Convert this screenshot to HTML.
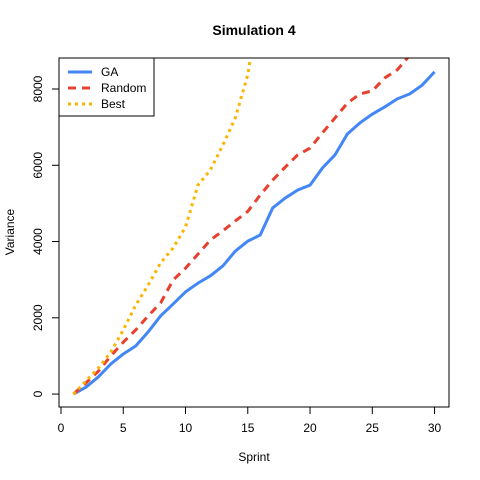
<!DOCTYPE html>
<html><head><meta charset="utf-8"><style>body{margin:0;background:#fff}svg{display:block;font-family:"Liberation Sans",Arial,sans-serif}</style></head>
<body>
<svg id="c" width="480" height="480"></svg>
<script>
const sprints=[1,2,3,4,5,6,7,8,9,10,11,12,13,14,15,16,17,18,19,20,21,22,23,24,25,26,27,28,29,30];
const gaValues=[0,180,450,790,1050,1260,1630,2050,2360,2680,2910,3100,3360,3750,4010,4170,4880,5140,5350,5480,5930,6270,6820,7110,7340,7530,7740,7870,8100,8450];
const randomValues=[0,290,600,1000,1360,1680,2050,2390,2990,3300,3670,4040,4280,4540,4790,5220,5610,5950,6270,6450,6850,7240,7630,7870,7950,8290,8500,8880,9200,9500];
const bestValues=[0,340,680,1100,1680,2330,2860,3440,3830,4380,5480,5880,6530,7240,8370,10500,11200,11900,12600,13300,14000,14700,15400,16100,16800,17500,18200,18900,19600,20300];
const xTicks=[0,5,10,15,20,25,30];
const yTicks=[0,2000,4000,6000,8000];
const L=59,R=449,T=58,B=407;
const xmin=-0.16,xmax=31.16,ymin=-339,ymax=8813;
const sx=v=>L+(v-xmin)/(xmax-xmin)*(R-L);
const sy=v=>B-(v-ymin)/(ymax-ymin)*(B-T);
const svg=document.getElementById('c');const NS='http://www.w3.org/2000/svg';
function mk(t,a,p){const e=document.createElementNS(NS,t);for(const k in a)e.setAttribute(k,a[k]);(p||svg).appendChild(e);return e;}
const defs=mk('defs',{});const cp=mk('clipPath',{id:'pc'},defs);mk('rect',{x:L,y:T,width:R-L,height:B-T},cp);
const series=[[gaValues,'#4287f5','',3,'ga-line'],[randomValues,'#e8402f','8,6',3,'random-line'],[bestValues,'#fbb400','3,4',3,'best-line']];
series.forEach(s=>{const p=mk('polyline',{points:sprints.map((x,i)=>sx(x)+','+sy(s[0][i])).join(' '),fill:'none',stroke:s[1],'stroke-width':s[3],'stroke-dasharray':s[2],'clip-path':'url(#pc)'});

});
const box=mk('rect',{x:L,y:T,width:R-L,height:B-T,fill:'none',stroke:'#000'});


xTicks.forEach(v=>{const x=sx(v);mk('line',{x1:x,x2:x,y1:B,y2:B+7,stroke:'#000'});const t=mk('text',{x:x,y:432,'text-anchor':'middle','font-size':12});t.textContent=v;

});
mk('line',{x1:sx(0),x2:sx(30),y1:B,y2:B,stroke:'#000'});
yTicks.forEach(v=>{const y=sy(v);mk('line',{x1:L,x2:L-7,y1:y,y2:y,stroke:'#000'});const t=mk('text',{x:0,y:0,'text-anchor':'middle','font-size':12,transform:`translate(42,${y}) rotate(-90)`});t.textContent=v;

});
mk('line',{x1:L,x2:L,y1:sy(0),y2:sy(8000),stroke:'#000'});
const ti=mk('text',{x:254,y:35,'text-anchor':'middle','font-size':14,'font-weight':'bold'});ti.textContent='Simulation 4';


const xl=mk('text',{x:254,y:461,'text-anchor':'middle','font-size':12});xl.textContent='Sprint';


const yl=mk('text',{x:0,y:0,'text-anchor':'middle','font-size':12,transform:'translate(14,232) rotate(-90)'});yl.textContent='Variance';


const lg=mk('g',{});


mk('rect',{x:L,y:T,width:95,height:58,fill:'#fff',stroke:'#000'},lg);
const names=['GA','Random','Best'];
series.forEach((s,i)=>{const y=72+i*16;mk('line',{x1:68,x2:92,y1:y,y2:y,stroke:s[1],'stroke-width':3,'stroke-dasharray':s[2]},lg);const t=mk('text',{x:101,y:y+4,'font-size':12},lg);t.textContent=names[i];

});
</script>
</body></html>
